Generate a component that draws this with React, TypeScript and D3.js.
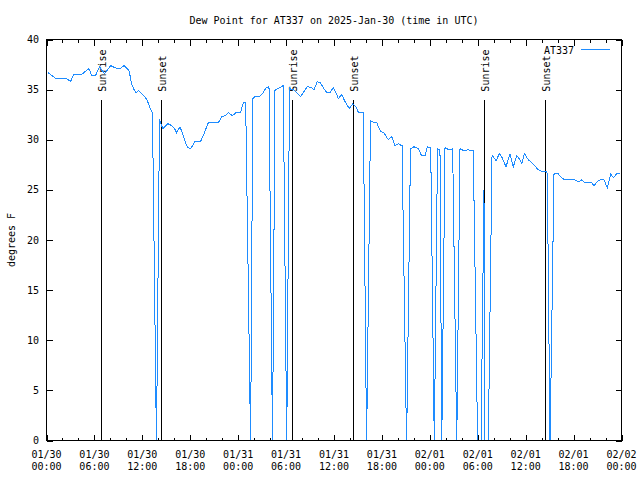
import React from 'react';
import * as d3 from 'd3';

// hours since 2025-01-30 00:00 UTC
const hoursSinceStart = [
  0.19, 1.19, 2.5, 3.01, 3.38, 4.38, 4.82, 5.32, 5.66, 6.14, 6.64, 6.95, 7.29, 8.04, 8.51, 8.95, 9.2, 9.7, 10.12, 10.37,
  10.64, 10.96, 11.21, 11.5, 11.92, 12.33, 12.62, 12.96, 13.27, 13.77, 14.15, 14.3, 14.59, 14.93, 15.21, 15.46, 15.97,
  16.3, 16.72, 17.13, 17.47, 17.72, 18.06, 18.56, 19.28, 19.72, 20.26, 21.51, 21.94, 22.39, 22.76, 23.29, 23.73, 24.29,
  24.64, 24.94, 25.56, 25.83, 26.11, 26.65, 27.15, 27.49, 27.86, 28.3, 28.61, 28.9, 29.24, 29.65, 30.08, 30.43, 30.58,
  30.9, 31.33, 31.83, 32.16, 32.66, 33.21, 33.5, 33.91, 34.25, 34.66, 35.09, 35.5, 35.91, 36.25, 36.54, 36.97, 37.38,
  37.92, 38.34, 38.75, 39.07, 39.67, 40.08, 40.57, 40.72, 41.35, 41.85, 42.26, 42.8, 43.23, 43.64, 44.05, 44.52, 45.09,
  45.58, 46.02, 46.56, 46.98, 47.4, 47.68, 48.11, 48.56, 48.96, 49.27, 49.49, 49.9, 50.4, 50.86, 51.37, 51.78, 52.28,
  52.78, 53.44, 53.99, 54.41, 54.78, 54.86, 55.32, 55.79, 56.29, 56.7, 57.0, 57.54, 58.04, 58.45, 58.88, 59.21, 59.51,
  59.85, 60.33, 60.92, 61.58, 62.21, 62.57, 62.71, 63.05, 63.55, 64.09, 64.49, 64.93, 66.18, 66.59, 67.02, 67.43, 68.27,
  68.56, 68.93, 69.31, 69.81, 70.22, 70.65, 70.98, 71.4, 71.75,
];

const dewPointF = [
  36.7, 36.1, 36.1, 35.8, 36.5, 36.5, 36.8, 37.1, 36.4, 36.4, 37.3, 36.9, 36.6, 37.4, 37.2, 37.1, 37.1, 37.4, 37.1, 36.8,
  35.6, 35.0, 34.7, 34.9, 34.6, 34.3, 33.9, 33.2, 32.7, -0.5, 32.1, 31.6, 31.1, 31.4, 31.6, 31.5, 31.2,
  30.7, 31.3, 30.4, 29.6, 29.2, 29.1, 29.8, 29.8, 30.6, 31.7, 31.7, 32.3, 32.4, 32.7, 32.4, 32.7, 32.7,
  33.7, 33.7, -0.5, 34.1, 34.3, 34.3, 34.7, 35.2, 35.3, -0.5, 34.9, 35.1, 35.2, 35.4, -0.5, 35.3, 35.0,
  35.0, 34.7, 34.3, 34.7, 35.3, 35.2, 35.0, 35.8, 35.7, 35.2, 34.7, 34.7, 35.2, 34.7, 34.1, 34.5, 33.8,
  33.1, 33.6, 33.3, 32.7, 32.7, -0.5, 31.9, 31.8, 31.7, 30.8, 30.7, 30.0, 30.3, 29.4, 29.6, 29.4, -0.5,
  29.1, 29.3, 29.1, 28.4, 28.4, 29.3, 29.2, -0.5, 29.1, 29.0, -0.5, 29.2, 29.0, 29.1, -0.5, 29.1, 28.9,
  29.0, 28.9, -0.5, -0.5, 25.0, -0.5, -0.5, 28.5, 27.9, 28.6, 28.3, 27.3, 28.6, 27.3, 28.4, 28.1, 27.6,
  28.6, 28.0, 27.6, 27.0, 26.8, 26.8, 26.6, -0.5, 26.6, 26.6, 26.2, 26.0, 26.0, 25.8, 26.0, 25.7, 25.7,
  25.4, 25.8, 26.0, 26.0, 25.2, 26.6, 26.2, 26.6, 26.6,
];

const sunriseHours = [6.86, 30.78, 54.82];
const sunsetHours = [14.38, 38.42, 62.46];

const xTickHours = [0, 6, 12, 18, 24, 30, 36, 42, 48, 54, 60, 66, 72];
const xTickDates = ['01/30', '01/30', '01/30', '01/30', '01/31', '01/31', '01/31', '01/31', '02/01', '02/01', '02/01', '02/01', '02/02'];
const xTickTimes = ['00:00', '06:00', '12:00', '18:00', '00:00', '06:00', '12:00', '18:00', '00:00', '06:00', '12:00', '18:00', '00:00'];
const yTicks = [0, 5, 10, 15, 20, 25, 30, 35, 40];

const titleText = 'Dew Point for AT337 on 2025-Jan-30 (time in UTC)';
const yLabel = 'degrees F';
const seriesName = 'AT337';

export default function App() {
  const W = 640;
  const H = 480;
  const left = 46.5, right = 621.5, top = 39.5, bottom = 440.5;
  const x = d3.scaleLinear().domain([0, 72]).range([left, right]);
  const y = d3.scaleLinear().domain([0, 40]).range([bottom, top]);
  const font = 'DejaVu Sans Mono, monospace';
  const blue = '#1E8CFF';

  const pts: [number, number][] = hoursSinceStart.map((h, i) => [h, dewPointF[i]]);
  const line = d3.line<[number, number]>().x(d => x(d[0])).y(d => y(d[1]));
  const minorHours = d3.range(0, 73, 2).filter(h => h % 6 !== 0);

  return (
    <svg width={W} height={H} style={{ position: 'absolute', left: 0, top: 0, background: '#fff' }} fontFamily={font} fontSize={10}>
      <rect x={0} y={0} width={W} height={H} fill="#fff" />
      <defs>
        <clipPath id="plotclip">
          <rect x={left} y={top} width={right - left} height={bottom - top} />
        </clipPath>
      </defs>
      <text x={(left + right) / 2} y={24} textAnchor="middle">{titleText}</text>
      {/* y ticks */}
      {yTicks.map(t => (
        <g key={'y' + t}>
          <line x1={left} x2={left + 6} y1={Math.round(y(t)) + 0.5} y2={Math.round(y(t)) + 0.5} stroke="#000" shapeRendering="crispEdges" />
          <line x1={right} x2={right - 6} y1={Math.round(y(t)) + 0.5} y2={Math.round(y(t)) + 0.5} stroke="#000" shapeRendering="crispEdges" />
          <text x={39} y={y(t)} dy="0.35em" textAnchor="end">{t}</text>
        </g>
      ))}
      {/* x ticks */}
      {xTickHours.map((h, i) => (
        <g key={'x' + h}>
          <line x1={Math.round(x(h)) + 0.5} x2={Math.round(x(h)) + 0.5} y1={bottom} y2={bottom - 6} stroke="#000" shapeRendering="crispEdges" />
          <line x1={Math.round(x(h)) + 0.5} x2={Math.round(x(h)) + 0.5} y1={top} y2={top + 6} stroke="#000" shapeRendering="crispEdges" />
          <text x={x(h)} y={458} textAnchor="middle">{xTickDates[i]}</text>
          <text x={x(h)} y={470} textAnchor="middle">{xTickTimes[i]}</text>
        </g>
      ))}
      {minorHours.map(h => (
        <g key={'m' + h}>
          <line x1={Math.round(x(h)) + 0.5} x2={Math.round(x(h)) + 0.5} y1={bottom} y2={bottom - 3} stroke="#000" shapeRendering="crispEdges" />
          <line x1={Math.round(x(h)) + 0.5} x2={Math.round(x(h)) + 0.5} y1={top} y2={top + 3} stroke="#000" shapeRendering="crispEdges" />
        </g>
      ))}
      <text transform={`translate(15,${(top + bottom) / 2}) rotate(-90)`} textAnchor="middle">{yLabel}</text>
      {/* sunrise / sunset markers */}
      {sunriseHours.map(h => (
        <g key={'sr' + h}>
          <line x1={Math.round(x(h)) + 0.5} x2={Math.round(x(h)) + 0.5} y1={bottom} y2={y(34)} stroke="#000" shapeRendering="crispEdges" />
          <text transform={`translate(${x(h) + 4.5},${y(34.8)}) rotate(-90)`} textAnchor="start">Sunrise</text>
        </g>
      ))}
      {sunsetHours.map(h => (
        <g key={'ss' + h}>
          <line x1={Math.round(x(h)) + 0.5} x2={Math.round(x(h)) + 0.5} y1={bottom} y2={y(34)} stroke="#000" shapeRendering="crispEdges" />
          <text transform={`translate(${x(h) + 4.5},${y(34.8)}) rotate(-90)`} textAnchor="start">Sunset</text>
        </g>
      ))}
      {/* data */}
      <path d={line(pts) || ''} fill="none" stroke={blue} strokeWidth={1} clipPath="url(#plotclip)" shapeRendering="crispEdges" />
      {/* border */}
      <rect x={left} y={top} width={right - left} height={bottom - top} fill="none" stroke="#000" shapeRendering="crispEdges" />
      {/* legend */}
      <text x={574} y={54} textAnchor="end">{seriesName}</text>
      <line x1={581} x2={610} y1={49.5} y2={49.5} stroke={blue} shapeRendering="crispEdges" />
    </svg>
  );
}
